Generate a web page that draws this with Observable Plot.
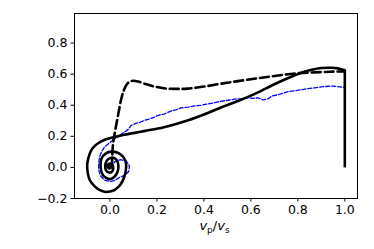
<!DOCTYPE html>
<html>
<head>
<meta charset="utf-8">
<script src="https://cdn.jsdelivr.net/npm/d3@7"></script>
<script src="https://cdn.jsdelivr.net/npm/@observablehq/plot@0.6"></script>
<style>
  html, body { margin: 0; padding: 0; background: white; }
</style>
</head>
<body>
<div id="chart"></div>
<script>
// Tick values
const xTicks = [0.0, 0.2, 0.4, 0.6, 0.8, 1.0];
const yTicks = [-0.2, 0.0, 0.2, 0.4, 0.6, 0.8];

// Solid black curve: vertical part at v_p/v_s = 1
const edgeX = [1.0, 1.0];
const edgeY = [0.0, 0.625];

// Solid black curve: from the top of the vertical part leftwards, spiralling into the origin
const solidX = [1.0, 0.993, 0.97, 0.943, 0.9, 0.86, 0.83, 0.8, 0.759, 0.7, 0.617, 0.55, 0.475, 0.4, 0.333, 0.27, 0.204, 0.15, 0.105, 0.06, 0.02, -0.01, -0.037, -0.06, -0.08, -0.092, -0.097, -0.094, -0.086, -0.066, -0.045, -0.023, 0.0, 0.022, 0.045, 0.061, 0.069, 0.066, 0.055, 0.04, 0.02, -0.002, -0.022, -0.036, -0.04, -0.032, -0.016, 0.0, 0.018, 0.032, 0.036, 0.03, 0.015, 0.0, -0.014, -0.02, -0.017, -0.005, 0.008, 0.014, 0.011, 0.0, -0.009, -0.008, 0.0, 0.005, 0.002];
const solidY = [0.625, 0.628, 0.637, 0.641, 0.639, 0.628, 0.617, 0.6, 0.575, 0.535, 0.473, 0.43, 0.387, 0.34, 0.303, 0.275, 0.25, 0.235, 0.222, 0.21, 0.196, 0.185, 0.168, 0.145, 0.11, 0.06, 0.015, -0.04, -0.081, -0.12, -0.145, -0.157, -0.155, -0.143, -0.11, -0.06, 0.0, 0.04, 0.07, 0.089, 0.1, 0.1, 0.085, 0.058, 0.004, -0.045, -0.068, -0.075, -0.062, -0.03, 0.01, 0.045, 0.062, 0.06, 0.042, 0.012, -0.018, -0.033, -0.028, -0.008, 0.015, 0.025, 0.016, 0.0, -0.006, 0.005, 0.01];

// Dashed black curve
const dashX = [0.008, 0.010, 0.013, 0.018, 0.025, 0.035, 0.048, 0.06, 0.072, 0.085, 0.1, 0.12, 0.15, 0.19, 0.235, 0.28, 0.33, 0.4, 0.5, 0.6, 0.7, 0.8, 0.9, 0.95, 1.0];
const dashY = [0.0, 0.08, 0.15, 0.2, 0.26, 0.34, 0.44, 0.5, 0.535, 0.552, 0.557, 0.552, 0.537, 0.52, 0.508, 0.505, 0.507, 0.52, 0.545, 0.567, 0.588, 0.606, 0.613, 0.616, 0.618];

// Thin blue dashed curve
const blueX = [0.0, 0.02, 0.045, 0.07, 0.083, 0.08, 0.065, 0.04, 0.02, 0.0, -0.023, -0.04, -0.048, -0.048, -0.044, -0.036, -0.023, 0.0, 0.02, 0.04, 0.062, 0.078, 0.09, 0.11, 0.13, 0.147, 0.17, 0.19, 0.204, 0.23, 0.26, 0.28, 0.303, 0.333, 0.36, 0.39, 0.418, 0.44, 0.47, 0.503, 0.53, 0.56, 0.589, 0.61, 0.63, 0.65, 0.674, 0.69, 0.72, 0.759, 0.79, 0.82, 0.844, 0.87, 0.9, 0.929, 0.95, 0.97, 0.99, 1.0];
const blueY = [0.0, 0.035, 0.05, 0.04, 0.01, -0.025, -0.05, -0.065, -0.085, -0.09, -0.082, -0.055, -0.015, 0.03, 0.068, 0.1, 0.132, 0.16, 0.185, 0.205, 0.227, 0.245, 0.27, 0.283, 0.292, 0.302, 0.312, 0.324, 0.334, 0.343, 0.362, 0.37, 0.383, 0.388, 0.396, 0.4, 0.409, 0.414, 0.425, 0.432, 0.439, 0.442, 0.447, 0.444, 0.448, 0.435, 0.441, 0.46, 0.469, 0.488, 0.494, 0.501, 0.507, 0.511, 0.518, 0.522, 0.523, 0.52, 0.516, 0.515];

const edge = edgeX.map((x, i) => ({x, y: edgeY[i]}));
const solid = solidX.map((x, i) => ({x, y: solidY[i]}));
const dashed = dashX.map((x, i) => ({x, y: dashY[i]}));
const blue = blueX.map((x, i) => ({x, y: blueY[i]}));

const fmt = d3.format(".1f");

const chart = Plot.plot({
  width: 374,
  height: 249,
  marginLeft: 74,
  marginRight: 17,
  marginTop: 13,
  marginBottom: 51,
  style: {fontFamily: "DejaVu Sans", fontSize: "12.5px", color: "black", background: "white"},
  x: {domain: [-0.151, 1.054]},
  y: {domain: [-0.2, 0.99]},
  marks: [
    Plot.line(blue, {x: "x", y: "y", stroke: "#0000ff", strokeWidth: 1.3, strokeDasharray: "4,2", curve: "linear"}),
    Plot.line(dashed, {x: "x", y: "y", stroke: "black", strokeWidth: 2.6, strokeDasharray: "9,4", curve: "catmull-rom"}),
    Plot.line(edge, {x: "x", y: "y", stroke: "black", strokeWidth: 2.6, strokeLinecap: "butt"}),
    Plot.line(solid, {x: "x", y: "y", stroke: "black", strokeWidth: 2.6, curve: "catmull-rom"}),
    Plot.frame({stroke: "black", strokeWidth: 1}),
    Plot.axisX({ticks: xTicks, tickFormat: fmt, tickSize: 3.5, tickPadding: 3.5, label: null}),
    Plot.axisY({ticks: yTicks, tickFormat: fmt, tickSize: 3.5, tickPadding: 3.5, label: null})
  ]
});

document.getElementById("chart").appendChild(chart);

const svg = d3.select(chart);
const t = svg.append("text")
  .attr("x", 214.5).attr("y", 230)
  .attr("text-anchor", "middle")
  .attr("fill", "black")
  .style("font-family", "DejaVu Sans")
  .style("font-size", "13px");
t.append("tspan").style("font-style", "italic").text("v");
t.append("tspan").attr("dy", 2.5).style("font-size", "9px").text("p");
t.append("tspan").attr("dy", -2.5).text("/");
t.append("tspan").style("font-style", "italic").text("v");
t.append("tspan").attr("dy", 2.5).style("font-size", "9px").text("s");
</script>
</body>
</html>
